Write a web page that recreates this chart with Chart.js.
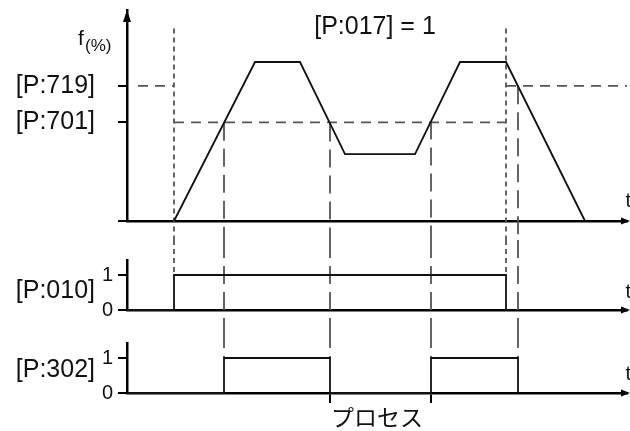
<!DOCTYPE html>
<html>
<head>
<meta charset="utf-8">
<script src="https://cdn.jsdelivr.net/npm/chart.js@4.4.1/dist/chart.umd.min.js"></script>
<style>
  html, body { margin: 0; padding: 0; background: #fff; }
  #wrap { position: relative; width: 630px; height: 431px; }
  #wrap canvas { position: absolute; left: 0; }
</style>
</head>
<body>
<div id="wrap">
  <canvas id="freq" width="630" height="240" style="top:0px"></canvas>
  <canvas id="run" width="630" height="90" style="top:240px"></canvas>
  <canvas id="reached" width="630" height="101" style="top:330px"></canvas>
</div>
<script>
// frequency profile (time units, % of max)
var fTime = [4.7, 12.8, 17.3, 21.8, 28.8, 33.3, 37.9, 45.8];
var fValue = [0, 100, 100, 42, 42, 100, 100, 0];

// threshold levels on the f axis
var levelValues = [85, 62];
var levelLabels = ['[P:719]', '[P:701]'];

// digital outputs (new state from each time on)
var p010Time = [0, 4.7, 37.9];
var p010Value = [0, 1, 0];
var p302Time = [0, 9.7, 20.3, 30.4, 39.1];
var p302Value = [0, 1, 0, 1, 0];

var stateTicks = [0, 1];
var processTicks = [20.3, 30.4];

var FONT = 'Liberation Sans';
var INK = '#111';
var DASH_COLOR = '#555';
var SHORT_DASH = [5, 4];
var LONG_DASH_V = [18, 8];
var LONG_DASH_H = [10, 7];

function fAt(t) {
  for (var i = 0; i < fTime.length - 1; i++) {
    if (t >= fTime[i] && t <= fTime[i + 1]) {
      var k = (t - fTime[i]) / (fTime[i + 1] - fTime[i]);
      return fValue[i] + k * (fValue[i + 1] - fValue[i]);
    }
  }
  return 0;
}

function points(ts, vs) {
  return ts.map(function (t, i) { return {x: t, y: vs[i]}; });
}

var p010Events = p010Time.slice(1);
var p302Events = p302Time.slice(1);

// draws guides, arrows and free texts for one panel
function makeOverlay(spec) {
  return {
    id: 'overlay',
    beforeDatasetsDraw: function (chart) {
      var ctx = chart.ctx, xs = chart.scales.x, ys = chart.scales.y;
      function yPix(v) {
        if (v === 'top') return 0;
        if (v === 'bottom') return chart.height;
        return ys.getPixelForValue(v);
      }
      ctx.save();
      ctx.strokeStyle = DASH_COLOR;
      ctx.lineWidth = 1.8;
      (spec.vertical || []).forEach(function (g) {
        var x = xs.getPixelForValue(g.t);
        ctx.setLineDash(g.dash);
        ctx.beginPath();
        ctx.moveTo(x, yPix(g.from));
        ctx.lineTo(x, yPix(g.to));
        ctx.stroke();
      });
      (spec.horizontal || []).forEach(function (g) {
        var y = ys.getPixelForValue(g.level);
        ctx.setLineDash(g.dash);
        ctx.beginPath();
        ctx.moveTo(xs.getPixelForValue(g.from), y);
        ctx.lineTo(xs.getPixelForValue(g.to), y);
        ctx.stroke();
      });
      ctx.restore();
    },
    afterDraw: function (chart) {
      var ctx = chart.ctx, area = chart.chartArea;
      ctx.save();
      ctx.fillStyle = '#000';
      // x arrow
      ctx.beginPath();
      ctx.moveTo(630, area.bottom);
      ctx.lineTo(621, area.bottom - 3.5);
      ctx.lineTo(621, area.bottom + 3.5);
      ctx.closePath();
      ctx.fill();
      if (spec.yArrow) {
        ctx.beginPath();
        ctx.moveTo(area.left, area.top);
        ctx.lineTo(area.left - 4, area.top + 12);
        ctx.lineTo(area.left + 4, area.top + 12);
        ctx.closePath();
        ctx.fill();
      }
      ctx.fillStyle = INK;
      (spec.texts || []).forEach(function (t) {
        ctx.font = (t.size) + 'px ' + (t.family || FONT);
        ctx.textAlign = t.align || 'left';
        ctx.textBaseline = t.baseline || 'middle';
        ctx.fillText(t.text, t.x, t.y);
      });
      ctx.restore();
    }
  };
}

function yAxis(max, tickValues, labelFor, size, pad) {
  return {
    min: 0,
    max: max,
    afterFit: function (s) { s.width = 127; s.paddingTop = 0; s.paddingBottom = 0; },
    afterBuildTicks: function (s) {
      s.ticks = tickValues.map(function (v) { return {value: v}; });
    },
    ticks: {
      autoSkip: false,
      padding: pad,
      color: INK,
      font: {family: FONT, size: size},
      callback: labelFor
    },
    grid: {drawOnChartArea: false, drawTicks: true, tickLength: 9, lineWidth: 2, color: '#000'},
    border: {color: '#000', width: 2.5}
  };
}

function xAxis(extra) {
  var ax = {
    type: 'linear',
    min: 0,
    max: 50,
    ticks: {display: false},
    grid: {drawOnChartArea: false, drawTicks: false, color: '#000', lineWidth: 2},
    border: {color: '#000', width: 2.5},
    afterFit: function (s) { s.height = 0; s.paddingLeft = 0; s.paddingRight = 0; }
  };
  return Object.assign(ax, extra || {});
}

function baseOptions(padding, scales) {
  return {
    responsive: false,
    animation: false,
    devicePixelRatio: 1,
    events: [],
    layout: {padding: padding, autoPadding: false},
    plugins: {legend: {display: false}, tooltip: {enabled: false}},
    scales: scales
  };
}

function lineSet(data, stepped) {
  return {
    data: data,
    borderColor: INK,
    borderWidth: 1.8,
    pointRadius: 0,
    tension: 0,
    stepped: stepped || false,
    clip: false
  };
}

// ---- top panel: frequency
var topVertical = p010Events.map(function (t) {
  return {t: t, from: 121, to: 'bottom', dash: SHORT_DASH};
}).concat(p302Events.map(function (t) {
  return {t: t, from: fAt(t), to: 'bottom', dash: LONG_DASH_V};
}));

var topHorizontal = [
  {level: levelValues[1], from: p010Events[0], to: p010Events[1], dash: LONG_DASH_H},
  {level: levelValues[0], from: 1.1, to: p010Events[0], dash: LONG_DASH_H},
  {level: levelValues[0], from: p010Events[1], to: 50, dash: LONG_DASH_H}
];

new Chart(document.getElementById('freq'), {
  type: 'line',
  data: {datasets: [lineSet(points(fTime, fValue))]},
  options: baseOptions({top: 10, right: 3, bottom: 19, left: 0}, {
    x: xAxis(),
    y: yAxis(132.7, [0].concat(levelValues), function (v) {
      var i = levelValues.indexOf(v);
      return i < 0 ? '' : levelLabels[i];
    }, 25, 23)
  }),
  plugins: [makeOverlay({
    yArrow: true,
    vertical: topVertical,
    horizontal: topHorizontal,
    texts: [
      {text: '[P:017] = 1', x: 375, y: 27, size: 25, align: 'center'},
      {text: 'f', x: 78, y: 45, size: 21, baseline: 'alphabetic'},
      {text: '(%)', x: 85, y: 51, size: 17, baseline: 'alphabetic'},
      {text: 't', x: 631, y: 201, size: 20, align: 'right'}
    ]
  })]
});

// ---- middle panel: P:010
new Chart(document.getElementById('run'), {
  type: 'line',
  data: {datasets: [lineSet(points(p010Time, p010Value), 'before')]},
  options: baseOptions({top: 20, right: 3, bottom: 20, left: 0}, {
    x: xAxis(),
    y: yAxis(50 / 35, stateTicks, function (v) { return String(v); }, 20, 5)
  }),
  plugins: [makeOverlay({
    vertical: p010Events.map(function (t) {
      return {t: t, from: 'top', to: 1, dash: SHORT_DASH};
    }).concat(p302Events.map(function (t) {
      return {t: t, from: 'top', to: 'bottom', dash: LONG_DASH_V};
    })),
    texts: [
      {text: '[P:010]', x: 95, y: 51, size: 25, align: 'right'},
      {text: 't', x: 631, y: 52, size: 20, align: 'right'}
    ]
  })]
});

// ---- bottom panel: P:302
new Chart(document.getElementById('reached'), {
  type: 'line',
  data: {datasets: [lineSet(points(p302Time, p302Value), 'before')]},
  options: baseOptions({top: 13, right: 3, bottom: 0, left: 0}, {
    x: xAxis({
      afterBuildTicks: function (s) {
        s.ticks = processTicks.map(function (v) { return {value: v}; });
      },
      grid: {drawOnChartArea: false, drawTicks: true, tickLength: 10, color: '#000', lineWidth: 2},
      title: {
        display: true,
        text: 'プロセス',
        color: INK,
        padding: 0,
        font: {family: 'Noto Sans CJK JP', size: 23}
      },
      afterFit: function (s) { s.height = 38; s.paddingLeft = 0; s.paddingRight = 0; }
    }),
    y: yAxis(50 / 35, stateTicks, function (v) { return String(v); }, 20, 5)
  }),
  plugins: [makeOverlay({
    vertical: p302Events.map(function (t) {
      return {t: t, from: 'top', to: 1, dash: LONG_DASH_V};
    }),
    texts: [
      {text: '[P:302]', x: 95, y: 40, size: 25, align: 'right'},
      {text: 't', x: 631, y: 44, size: 20, align: 'right'}
    ]
  })]
});
</script>
</body>
</html>
